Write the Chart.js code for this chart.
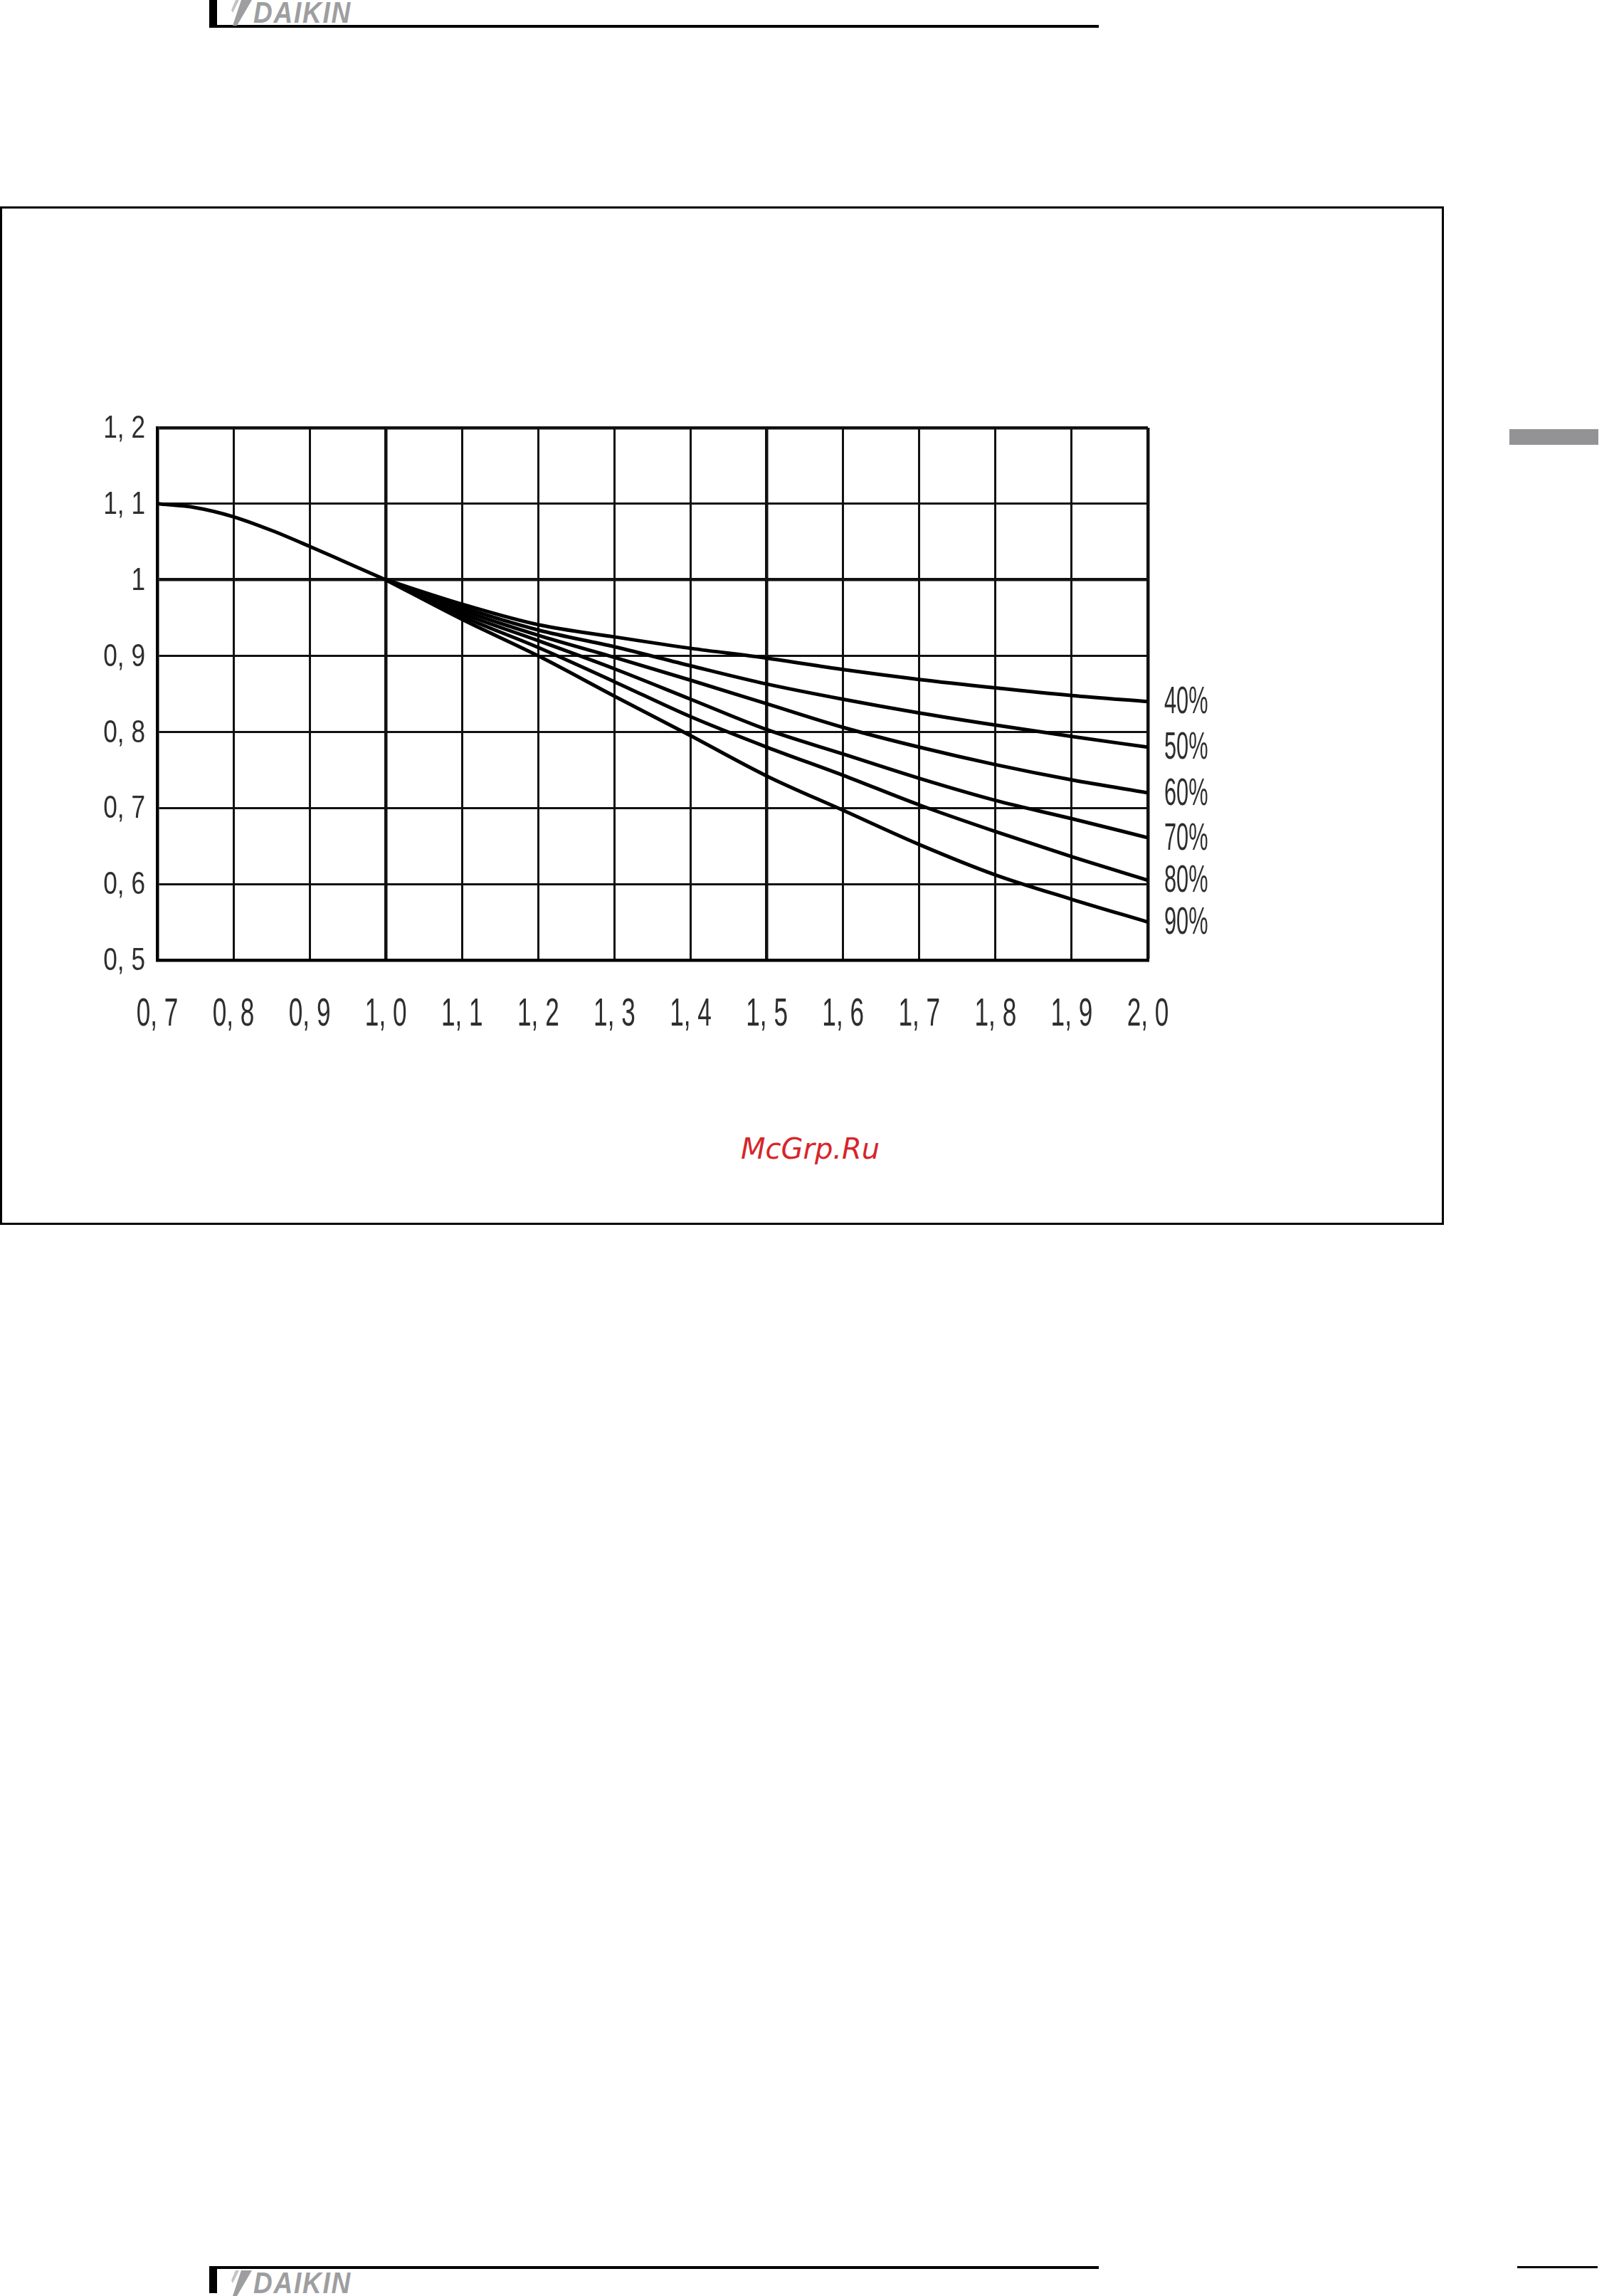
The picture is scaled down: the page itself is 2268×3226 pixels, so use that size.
<!DOCTYPE html>
<html>
<head>
<meta charset="utf-8">
<script src="https://cdn.jsdelivr.net/npm/chart.js@4"></script>
<style>
  body { margin: 0; width: 2268px; height: 3226px; position: relative; background: #fff; overflow: hidden; font-family: 'Liberation Sans', sans-serif; }
  .bar { position: absolute; left: 294px; width: 11px; background: #000; }
  .rule { position: absolute; left: 294px; width: 1250px; height: 4px; background: #000; }
  .logo { position: absolute; left: 325px; width: 200px; height: 36px; }
  .logo span { position: absolute; left: 31px; top: -3px; font: italic bold 42px/42px 'Liberation Sans', sans-serif; color: #9e9ea0; transform: scaleX(0.88); transform-origin: left; letter-spacing: 2px; }
  #frame { position: absolute; left: 0; top: 290px; width: 2029px; height: 1431px; box-sizing: border-box; border: 3px solid #000; }
  #wrap { position: absolute; left: 0; top: 560px; width: 1760px; height: 900px; }
  #mark { position: absolute; left: 1041px; top: 1594px; font: oblique 40px/40px 'DejaVu Sans', sans-serif; color: #d6262a; }
</style>
</head>
<body>
<!-- header -->
<div class="bar" style="top:0;height:37px"></div>
<div class="rule" style="top:35px"></div>
<div class="logo" style="top:0">
  <svg width="30" height="36" style="position:absolute;left:0;top:0"><polygon points="14,0 29,0 8,36 2,36" fill="#9e9ea0"/><polygon points="6,0 11,0 2,18 0,14" fill="#c4c4c6"/></svg>
  <span>DAIKIN</span>
</div>
<div style="position:absolute;left:2121px;top:603px;width:125px;height:22px;background:#939396"></div>

<div id="frame"></div>
<div id="wrap"><canvas id="chart"></canvas></div>
<div id="mark">McGrp.Ru</div>

<!-- footer -->
<div class="rule" style="top:3184px"></div>
<div class="bar" style="top:3184px;height:38px"></div>
<div class="logo" style="top:3190px">
  <svg width="30" height="36" style="position:absolute;left:0;top:0"><polygon points="14,0 29,0 8,36 2,36" fill="#9e9ea0"/><polygon points="6,0 11,0 2,18 0,14" fill="#c4c4c6"/></svg>
  <span>DAIKIN</span>
</div>
<div style="position:absolute;left:2132px;top:3184px;width:113px;height:3px;background:#000"></div>

<script>
// --- DATA ---
const xTicks = [0.7, 0.8, 0.9, 1.0, 1.1, 1.2, 1.3, 1.4, 1.5, 1.6, 1.7, 1.8, 1.9, 2.0];
const xTickLabels = ['0, 7', '0, 8', '0, 9', '1, 0', '1, 1', '1, 2', '1, 3', '1, 4', '1, 5', '1, 6', '1, 7', '1, 8', '1, 9', '2, 0'];
const yTicks = [0.5, 0.6, 0.7, 0.8, 0.9, 1.0, 1.1, 1.2];
const yTickLabels = ['0, 5', '0, 6', '0, 7', '0, 8', '0, 9', '1', '1, 1', '1, 2'];

// shared part of the curve, before the split at 1.0
const xCommon = [0.7, 0.75, 0.8, 0.85, 0.9, 0.95, 1.0];
const yCommon = [1.100, 1.095, 1.083, 1.065, 1.044, 1.022, 1.000];

const xSplit = [1.0, 1.1, 1.2, 1.3, 1.4, 1.5, 1.6, 1.7, 1.8, 1.9, 2.0];
const seriesNames = ['40%', '50%', '60%', '70%', '80%', '90%'];
const s40 = [1.0, 0.968, 0.941, 0.925, 0.910, 0.897, 0.882, 0.869, 0.858, 0.848, 0.840];
const s50 = [1.0, 0.964, 0.934, 0.912, 0.887, 0.863, 0.843, 0.825, 0.809, 0.794, 0.780];
const s60 = [1.0, 0.960, 0.927, 0.898, 0.868, 0.837, 0.806, 0.780, 0.757, 0.737, 0.720];
const s70 = [1.0, 0.956, 0.920, 0.883, 0.843, 0.803, 0.771, 0.739, 0.710, 0.686, 0.661];
const s80 = [1.0, 0.952, 0.911, 0.866, 0.820, 0.780, 0.743, 0.704, 0.669, 0.636, 0.605];
const s90 = [1.0, 0.948, 0.900, 0.847, 0.795, 0.742, 0.697, 0.652, 0.612, 0.580, 0.550];
const seriesValues = [s40, s50, s60, s70, s80, s90];

function toPoints(xs, ys) { return xs.map((x, i) => ({ x: x, y: ys[i] })); }

const lineStyle = { borderColor: '#000', borderWidth: 5, pointRadius: 0, fill: false, cubicInterpolationMode: 'monotone' };

const datasets = [Object.assign({ label: 'common', data: toPoints(xCommon, yCommon) }, lineStyle)];
seriesNames.forEach((name, i) => {
    datasets.push(Object.assign({ label: name, data: toPoints(xSplit, seriesValues[i]) }, lineStyle));
});

function near(a, b) { return Math.abs(a - b) < 1e-6; }

// condensed text, like the plotter font of the original drawing
function narrowText(ctx, text, x, y, sx, align) {
    ctx.save();
    ctx.translate(x, y);
    ctx.scale(sx, 1);
    ctx.textAlign = align;
    ctx.fillText(text, 0, 0);
    ctx.restore();
}

// tick labels + the % labels at the right end of each curve
const drawTexts = {
    id: 'drawTexts',
    afterDatasetsDraw(chart) {
        const ctx = chart.ctx;
        const xs = chart.scales.x, ys = chart.scales.y, area = chart.chartArea;
        ctx.save();
        ctx.fillStyle = '#2e2e2e';
        ctx.textBaseline = 'middle';

        ctx.font = '55px "Liberation Sans", sans-serif';
        xTicks.forEach((v, i) => narrowText(ctx, xTickLabels[i], xs.getPixelForValue(v), area.bottom + 77, 0.64, 'center'));

        ctx.font = '44px "Liberation Sans", sans-serif';
        yTicks.forEach((v, i) => narrowText(ctx, yTickLabels[i], area.left - 17, ys.getPixelForValue(v) + 2, 0.8, 'right'));

        ctx.font = '53px "Liberation Sans", sans-serif';
        seriesNames.forEach((name, i) => {
            const vals = seriesValues[i];
            narrowText(ctx, name, area.right + 23, ys.getPixelForValue(vals[vals.length - 1]) + 2, 0.58, 'left');
        });
        ctx.restore();
    }
};

new Chart(document.getElementById('chart'), {
    type: 'scatter',
    data: { datasets: datasets },
    options: {
        responsive: true,
        maintainAspectRatio: false,
        devicePixelRatio: 1,
        animation: false,
        showLine: true,
        layout: { padding: { top: 41, right: 147, left: 0, bottom: 0 } },
        plugins: { legend: { display: false }, tooltip: { enabled: false } },
        scales: {
            x: {
                type: 'linear', min: 0.7, max: 2.0,
                afterBuildTicks: axis => { axis.ticks = xTicks.map(v => ({ value: v })); },
                afterFit: axis => { axis.height = 111; },
                ticks: { display: false },
                grid: {
                    drawTicks: false, color: '#111',
                    lineWidth: c => (c.tick && (near(c.tick.value, 1.0) || near(c.tick.value, 1.5) || near(c.tick.value, 2.0))) ? 4.5 : 3
                },
                border: { display: true, color: '#000', width: 4.5 }
            },
            y: {
                type: 'linear', min: 0.5, max: 1.2,
                afterBuildTicks: axis => { axis.ticks = yTicks.map(v => ({ value: v })); },
                afterFit: axis => { axis.width = 221; },
                ticks: { display: false },
                grid: {
                    drawTicks: false, color: '#111',
                    lineWidth: c => (c.tick && (near(c.tick.value, 1.0) || near(c.tick.value, 1.2))) ? 4.5 : 3
                },
                border: { display: true, color: '#000', width: 4.5 }
            }
        }
    },
    plugins: [drawTexts]
});
</script>
</body>
</html>
